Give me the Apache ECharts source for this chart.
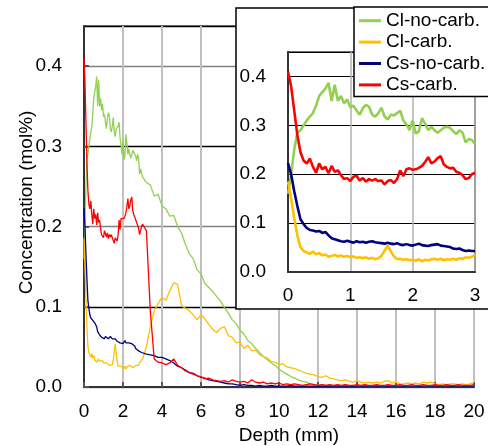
<!DOCTYPE html>
<html><head><meta charset="utf-8">
<script src="https://cdn.jsdelivr.net/npm/echarts/dist/echarts.min.js"></script>
<style>html,body{margin:0;padding:0;background:#fff}#c{width:488px;height:446px}</style>
</head><body><div id="c"></div>
<script>
// Depth (mm): fine steps 0-3 mm, coarser 3-20 mm
const depth = [0,0.05,0.1,0.15,0.2,0.25,0.3,0.35,0.4,0.45,0.5,0.55,0.6,0.65,0.7,0.75,0.8,0.85,0.9,0.95,
1,1.05,1.1,1.15,1.2,1.25,1.3,1.35,1.4,1.45,1.5,1.55,1.6,1.65,1.7,1.75,1.8,1.85,1.9,1.95,
2,2.05,2.1,2.15,2.2,2.25,2.3,2.35,2.4,2.45,2.5,2.55,2.6,2.65,2.7,2.75,2.8,2.85,2.9,2.95,3,
3.2,3.4,3.6,3.8,4,4.2,4.4,4.6,4.8,5,5.2,5.4,5.6,5.8,6,6.2,6.4,6.6,6.8,7,7.2,7.4,7.6,7.8,
8,8.2,8.4,8.6,8.8,9,9.2,9.4,9.6,9.8,10,10.2,10.4,10.6,10.8,11,11.2,11.4,11.6,11.8,
12,12.2,12.4,12.6,12.8,13,13.2,13.4,13.6,13.8,14,14.2,14.4,14.6,14.8,15,15.2,15.4,15.6,15.8,
16,16.2,16.4,16.6,16.8,17,17.2,17.4,17.6,17.8,18,18.2,18.4,18.6,18.8,19,19.2,19.4,19.6,19.8,20];

const clNoCarb = [0.16,0.2,0.25,0.285,0.29,0.3,0.31,0.318,0.325,0.34,0.36,0.368,0.375,0.387,0.35,0.383,0.35,0.36,0.345,0.353,
0.337,0.34,0.33,0.322,0.335,0.342,0.338,0.322,0.318,0.325,0.336,0.318,0.312,0.322,0.32,0.325,0.33,0.31,0.302,0.29,
0.31,0.283,0.288,0.315,0.303,0.29,0.297,0.29,0.285,0.29,0.295,0.297,0.295,0.288,0.282,0.29,0.285,0.265,0.272,0.27,0.262,
0.255,0.252,0.238,0.24,0.226,0.222,0.213,0.214,0.2,0.192,0.178,0.166,0.16,0.146,0.141,0.129,0.124,0.119,0.113,0.107,0.099,0.092,0.084,0.079,
0.071,0.066,0.058,0.054,0.048,0.043,0.038,0.034,0.03,0.027,0.022,0.019,0.016,0.013,0.011,0.009,0.007,0.006,0.004,0.003,
0.002,0.003,0.002,0.002,0.001,0.002,0.001,0.002,0.001,0.002,0.001,0.001,0.002,0.001,0.001,0.002,0.001,0.001,0.002,0.001,
0.001,0.001,0.002,0.001,0.001,0.001,0.002,0.001,0.001,0.001,0.002,0.001,0.001,0.001,0.002,0.001,0.001,0.001,0.002,0.001,0.001];

const clCarb = [0.185,0.15,0.11,0.075,0.051,0.043,0.04,0.037,0.042,0.036,0.039,0.034,0.036,0.031,0.033,0.035,0.032,0.034,0.031,0.033,
0.03,0.032,0.029,0.03,0.028,0.03,0.027,0.029,0.026,0.028,0.033,0.044,0.054,0.042,0.032,0.026,0.027,0.025,0.026,0.024,
0.025,0.023,0.026,0.022,0.025,0.024,0.026,0.027,0.025,0.027,0.024,0.026,0.025,0.027,0.025,0.028,0.027,0.03,0.029,0.031,0.035,
0.05,0.075,0.095,0.104,0.112,0.108,0.12,0.13,0.128,0.102,0.098,0.095,0.09,0.084,0.09,0.085,0.078,0.072,0.068,0.073,0.075,0.064,0.062,0.055,
0.056,0.048,0.052,0.045,0.046,0.04,0.038,0.036,0.032,0.031,0.028,0.029,0.025,0.024,0.023,0.021,0.019,0.017,0.016,0.015,
0.013,0.012,0.014,0.011,0.01,0.009,0.008,0.009,0.007,0.006,0.008,0.006,0.005,0.006,0.005,0.006,0.005,0.007,0.008,0.005,
0.006,0.004,0.004,0.005,0.004,0.005,0.004,0.006,0.005,0.006,0.004,0.003,0.004,0.003,0.004,0.004,0.003,0.004,0.003,0.004,0.006];

const csNoCarb = [0.223,0.2,0.165,0.135,0.108,0.098,0.09,0.086,0.085,0.083,0.084,0.08,0.082,0.075,0.069,0.067,0.065,0.063,0.062,0.064,
0.062,0.06,0.063,0.061,0.062,0.06,0.062,0.063,0.061,0.06,0.059,0.058,0.06,0.058,0.057,0.059,0.056,0.055,0.057,0.055,
0.054,0.056,0.058,0.055,0.054,0.053,0.055,0.056,0.057,0.054,0.053,0.052,0.051,0.048,0.047,0.048,0.045,0.043,0.044,0.043,0.043,
0.041,0.04,0.039,0.037,0.037,0.035,0.033,0.03,0.026,0.024,0.021,0.018,0.017,0.014,0.012,0.011,0.009,0.008,0.007,0.006,0.005,0.004,0.004,0.003,
0.002,0.003,0.002,0.002,0.001,0.002,0.001,0.001,0.002,0.001,0.001,0.001,0.001,0.002,0.001,0.001,0.001,0.001,0.001,0.001,
0.001,0.001,0.001,0.001,0.001,0.001,0.001,0.001,0.001,0.001,0.001,0.001,0.001,0.001,0.001,0.001,0.001,0.001,0.001,0.001,
0.001,0.001,0.001,0.001,0.001,0.001,0.001,0.001,0.001,0.001,0.001,0.001,0.001,0.001,0.001,0.001,0.001,0.001,0.001,0.001,0.001];

const csCarb = [0.41,0.38,0.33,0.28,0.245,0.228,0.222,0.232,0.215,0.203,0.222,0.21,0.215,0.202,0.217,0.205,0.208,0.198,0.19,0.192,
0.186,0.195,0.197,0.187,0.192,0.185,0.19,0.187,0.19,0.186,0.187,0.179,0.186,0.188,0.182,0.19,0.208,0.196,0.21,0.212,
0.209,0.21,0.213,0.217,0.225,0.235,0.222,0.226,0.233,0.237,0.22,0.215,0.212,0.213,0.205,0.203,0.198,0.19,0.192,0.2,0.203,
0.195,0.095,0.035,0.031,0.03,0.028,0.03,0.035,0.027,0.024,0.02,0.018,0.016,0.014,0.013,0.01,0.011,0.009,0.008,0.007,0.008,0.006,0.009,0.007,
0.006,0.007,0.005,0.009,0.006,0.005,0.006,0.004,0.005,0.004,0.005,0.003,0.004,0.003,0.004,0.003,0.002,0.003,0.004,0.003,
0.002,0.003,0.002,0.003,0.002,0.003,0.002,0.003,0.002,0.002,0.003,0.002,0.003,0.002,0.002,0.003,0.002,0.002,0.003,0.002,
0.002,0.003,0.002,0.002,0.003,0.002,0.002,0.003,0.002,0.002,0.003,0.002,0.002,0.003,0.002,0.002,0.003,0.002,0.002,0.002,0.003];

const names = ['Cl-no-carb.','Cl-carb.','Cs-no-carb.','Cs-carb.'];
const colors = ['#92D050','#FFC000','#000080','#FF0000'];
const values = [clNoCarb, clCarb, csNoCarb, csCarb];
const INSET_MAX_INDEX = 61; // points up to 3 mm

const font = '"Liberation Sans", Arial, sans-serif';
const chart = echarts.init(document.getElementById('c'));
const series = [];
values.forEach((arr, i) => {
  const pts = depth.map((d, k) => [d, arr[k]]);
  series.push({type:'line', name:names[i], xAxisIndex:0, yAxisIndex:0, data:pts, symbol:'none',
    color:colors[i], lineStyle:{width:1.3, color:colors[i]}, z:2, animation:false});
});
values.forEach((arr, i) => {
  const pts = depth.slice(0, INSET_MAX_INDEX).map((d, k) => [d, arr[k]]);
  series.push({type:'line', name:names[i], xAxisIndex:1, yAxisIndex:1, data:pts, symbol:'none',
    color:colors[i], lineStyle:{width:2.6, color:colors[i]}, z:5, animation:false});
});
const fmt = v => v.toFixed(1);
chart.setOption({
  animation:false,
  textStyle:{fontFamily:font},
  grid:[
    {left:84, right:14, top:26, bottom:59, show:true, borderColor:'#595959', borderWidth:1.5, outerBoundsMode:'none', containLabel:false},
    {left:288, right:13, top:52, bottom:174, show:true, borderColor:'#404040', borderWidth:1.5, z:4, outerBoundsMode:'none', containLabel:false}
  ],
  xAxis:[
    {gridIndex:0, type:'value', min:0, max:20, interval:2,
     axisLine:{lineStyle:{color:'#333', width:2}},
     axisTick:{inside:true, length:5, lineStyle:{color:'#555', width:2}},
     axisLabel:{fontSize:19, color:'#000', margin:15, fontFamily:font},
     splitLine:{lineStyle:{color:'#c0c0c0', width:2}},
     name:'Depth (mm)', nameLocation:'middle', nameGap:39, nameMoveOverlap:false,
     nameTextStyle:{fontSize:19, color:'#000', padding:[0,0,0,20], fontFamily:font}},
    {gridIndex:1, type:'value', min:0, max:3, interval:1, z:4,
     axisLine:{lineStyle:{color:'#333', width:2}},
     axisTick:{show:false},
     axisLabel:{fontSize:19, color:'#000', margin:14, fontFamily:font},
     splitLine:{lineStyle:{color:'#b0b0b0', width:1.5}}}
  ],
  yAxis:[
    {gridIndex:0, type:'value', min:0, max:0.45, interval:0.1,
     axisLine:{show:true, lineStyle:{color:'#333', width:2}},
     axisTick:{show:true, inside:true, length:5, lineStyle:{color:'#555', width:2}},
     axisLabel:{fontSize:19, color:'#000', margin:22, formatter:fmt, showMaxLabel:false, fontFamily:font},
     splitLine:{lineStyle:{color:['#808080','#000000'], width:1.3}},
     name:'Concentration (mol%)', nameLocation:'middle', nameGap:48, nameMoveOverlap:false,
     nameTextStyle:{fontSize:19, color:'#000', padding:[0,0,0,8], fontFamily:font}},
    {gridIndex:1, type:'value', min:0, max:0.45, interval:0.1, z:4,
     axisLine:{show:true, lineStyle:{color:'#333', width:2}},
     axisTick:{show:false},
     axisLabel:{fontSize:19, color:'#000', margin:22, formatter:fmt, showMaxLabel:false, fontFamily:font},
     splitLine:{lineStyle:{color:'#000', width:1}}}
  ],
  legend:{
    data:names, left:354, top:7, orient:'vertical', padding:[3,20,1,5], itemGap:0,
    icon:'rect', itemWidth:22, itemHeight:3,
    backgroundColor:'#fff', borderColor:'#000', borderWidth:1.5,
    textStyle:{fontSize:19, color:'#000', lineHeight:21.4, fontFamily:font}, z:8
  },
  graphic:{elements:[
    {type:'rect', z:3, shape:{x:236, y:8, width:270, height:301}, style:{fill:'#fff', stroke:'#000', lineWidth:1.5}}
  ]},
  series:series
});
</script></body></html>
